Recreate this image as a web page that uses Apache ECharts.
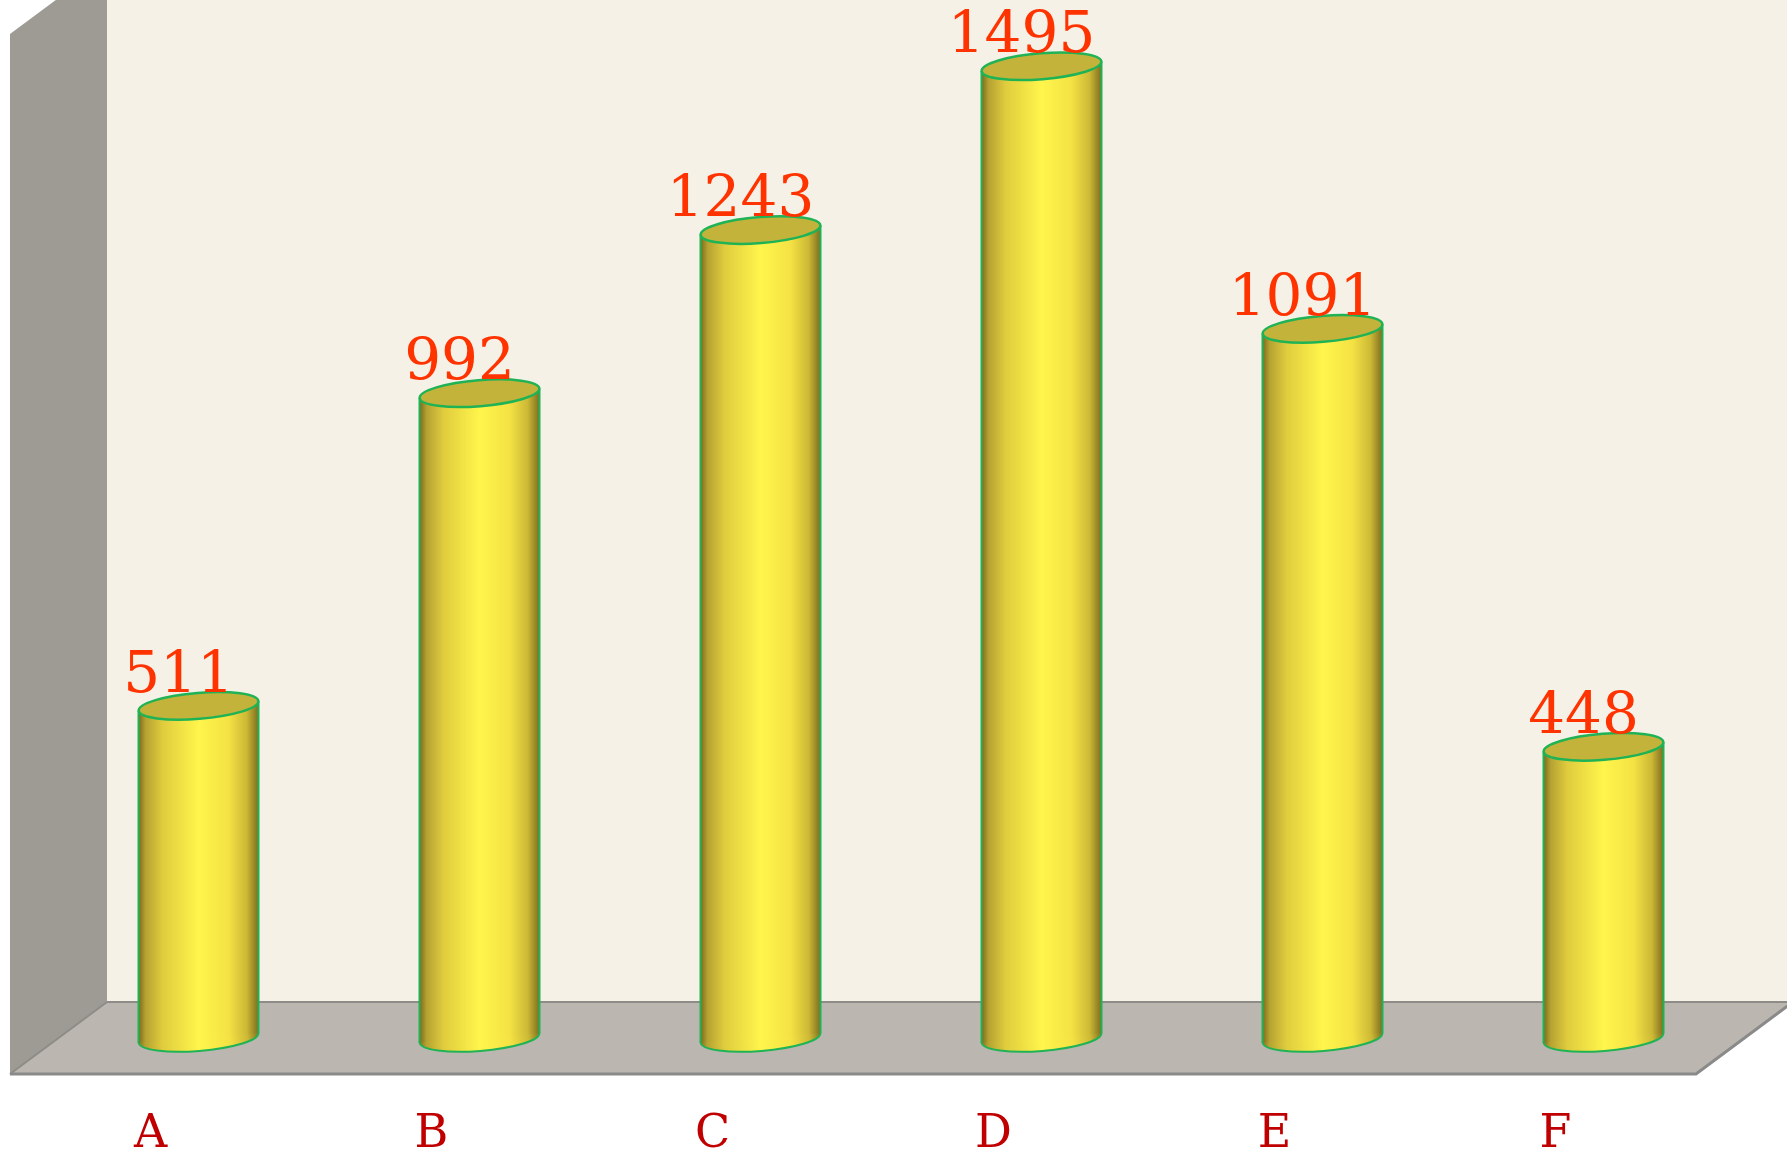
<!DOCTYPE html>
<html>
<head>
<meta charset="utf-8">
<script src="https://cdn.jsdelivr.net/npm/echarts@6/dist/echarts.min.js"></script>
<style>
  html, body { margin: 0; padding: 0; background: #fff; }
  #chart { width: 1787px; height: 1151px; }
</style>
</head>
<body>
<div id="chart"></div>
<script>
  const categories = ['A', 'B', 'C', 'D', 'E', 'F'];
  const values = [511, 992, 1243, 1495, 1091, 448];

  const green = '#1fb356';
  const tilt = 0.08;

  const bodyFill = {
    type: 'linear', x: 0, y: 0, x2: 1, y2: 0,
    colorStops: [
      { offset: 0, color: '#7a6a1c' },
      { offset: 0.06, color: '#b5a232' },
      { offset: 0.2, color: '#e0cc3d' },
      { offset: 0.5, color: '#fff54c' },
      { offset: 0.75, color: '#f4e244' },
      { offset: 0.9, color: '#cdb935' },
      { offset: 1, color: '#7e6d1f' }
    ]
  };

  // walls and floor (decoration only)
  const floorFront = 1074, floorBack = 1002, wallX = 107, leftX = 10, rightX = 1696;
  const depthX = wallX - leftX, depthY = floorFront - floorBack;
  const backdrop = [
    { type: 'rect', z: 0, shape: { x: wallX, y: 0, width: 1787 - wallX, height: floorBack }, style: { fill: '#f5f1e6' } },
    { type: 'polygon', z: 0, shape: { points: [[leftX, 34], [wallX, 34 - depthY], [wallX, floorBack], [leftX, floorFront]] }, style: { fill: '#9e9b94' } },
    { type: 'polygon', z: 0, shape: { points: [[leftX, floorFront], [rightX, floorFront], [rightX + depthX, floorBack], [wallX, floorBack]] }, style: { fill: '#bbb7b0' } },
    { type: 'polyline', z: 0, shape: { points: [[wallX, floorBack], [1787, floorBack]] }, style: { stroke: '#8e8c88', lineWidth: 2, fill: null } },
    { type: 'polyline', z: 0, shape: { points: [[leftX, floorFront], [wallX, floorBack]] }, style: { stroke: '#8e8c88', lineWidth: 2, fill: null } },
    { type: 'polyline', z: 0, shape: { points: [[leftX, floorFront], [rightX, floorFront], [rightX + depthX, floorBack]] }, style: { stroke: '#8a8a8a', lineWidth: 3, fill: null } }
  ];

  function renderCylinder(params, api) {
    const v = api.value(1);
    const top = api.coord([api.value(0), v]);
    const base = api.coord([api.value(0), 0]);
    const rx = api.size([1, 0])[0] * 0.427 / 2;
    const ry = 13;
    const cx = top[0];
    const d = rx * Math.sin(tilt);
    return {
      type: 'group',
      children: [
        { type: 'ellipse', x: cx, y: base[1], rotation: tilt, shape: { cx: 0, cy: 0, rx: rx, ry: ry },
          style: { fill: bodyFill, stroke: green, lineWidth: 2 } },
        { type: 'polygon', shape: { points: [[cx - rx, top[1] + d], [cx + rx, top[1] - d], [cx + rx, base[1] - d], [cx - rx, base[1] + d]] },
          style: { fill: bodyFill } },
        { type: 'line', shape: { x1: cx - rx, y1: top[1] + d, x2: cx - rx, y2: base[1] + d }, style: { stroke: green, lineWidth: 2 } },
        { type: 'line', shape: { x1: cx + rx, y1: top[1] - d, x2: cx + rx, y2: base[1] - d }, style: { stroke: green, lineWidth: 2 } },
        { type: 'ellipse', x: cx, y: top[1], rotation: tilt, shape: { cx: 0, cy: 0, rx: rx, ry: ry },
          style: { fill: '#c3b33b', stroke: green, lineWidth: 2.5 } },
        { type: 'text', x: cx - 20, y: top[1] - 29,
          style: { text: String(v), fill: '#ff3300', font: '58px "DejaVu Serif", serif', align: 'center', verticalAlign: 'middle' } }
      ]
    };
  }

  const chart = echarts.init(document.getElementById('chart'));
  chart.setOption({
    animation: false,
    backgroundColor: '#ffffff',
    graphic: backdrop,
    grid: { left: 58, right: 43, top: 63, bottom: 113, outerBoundsMode: 'none' },
    xAxis: {
      type: 'category',
      data: categories,
      axisLine: { show: false },
      axisTick: { show: false },
      axisLabel: {
        color: '#c00000',
        fontFamily: '"DejaVu Serif", serif',
        fontSize: 46,
        margin: 74,
        padding: [0, 96, 0, 0]
      }
    },
    yAxis: {
      type: 'value',
      min: 0,
      max: 1500,
      show: false,
      splitLine: { show: false }
    },
    series: [{
      type: 'custom',
      z: 5,
      renderItem: renderCylinder,
      encode: { x: 0, y: 1 },
      data: values.map((v, i) => [i, v])
    }]
  });
</script>
</body>
</html>
